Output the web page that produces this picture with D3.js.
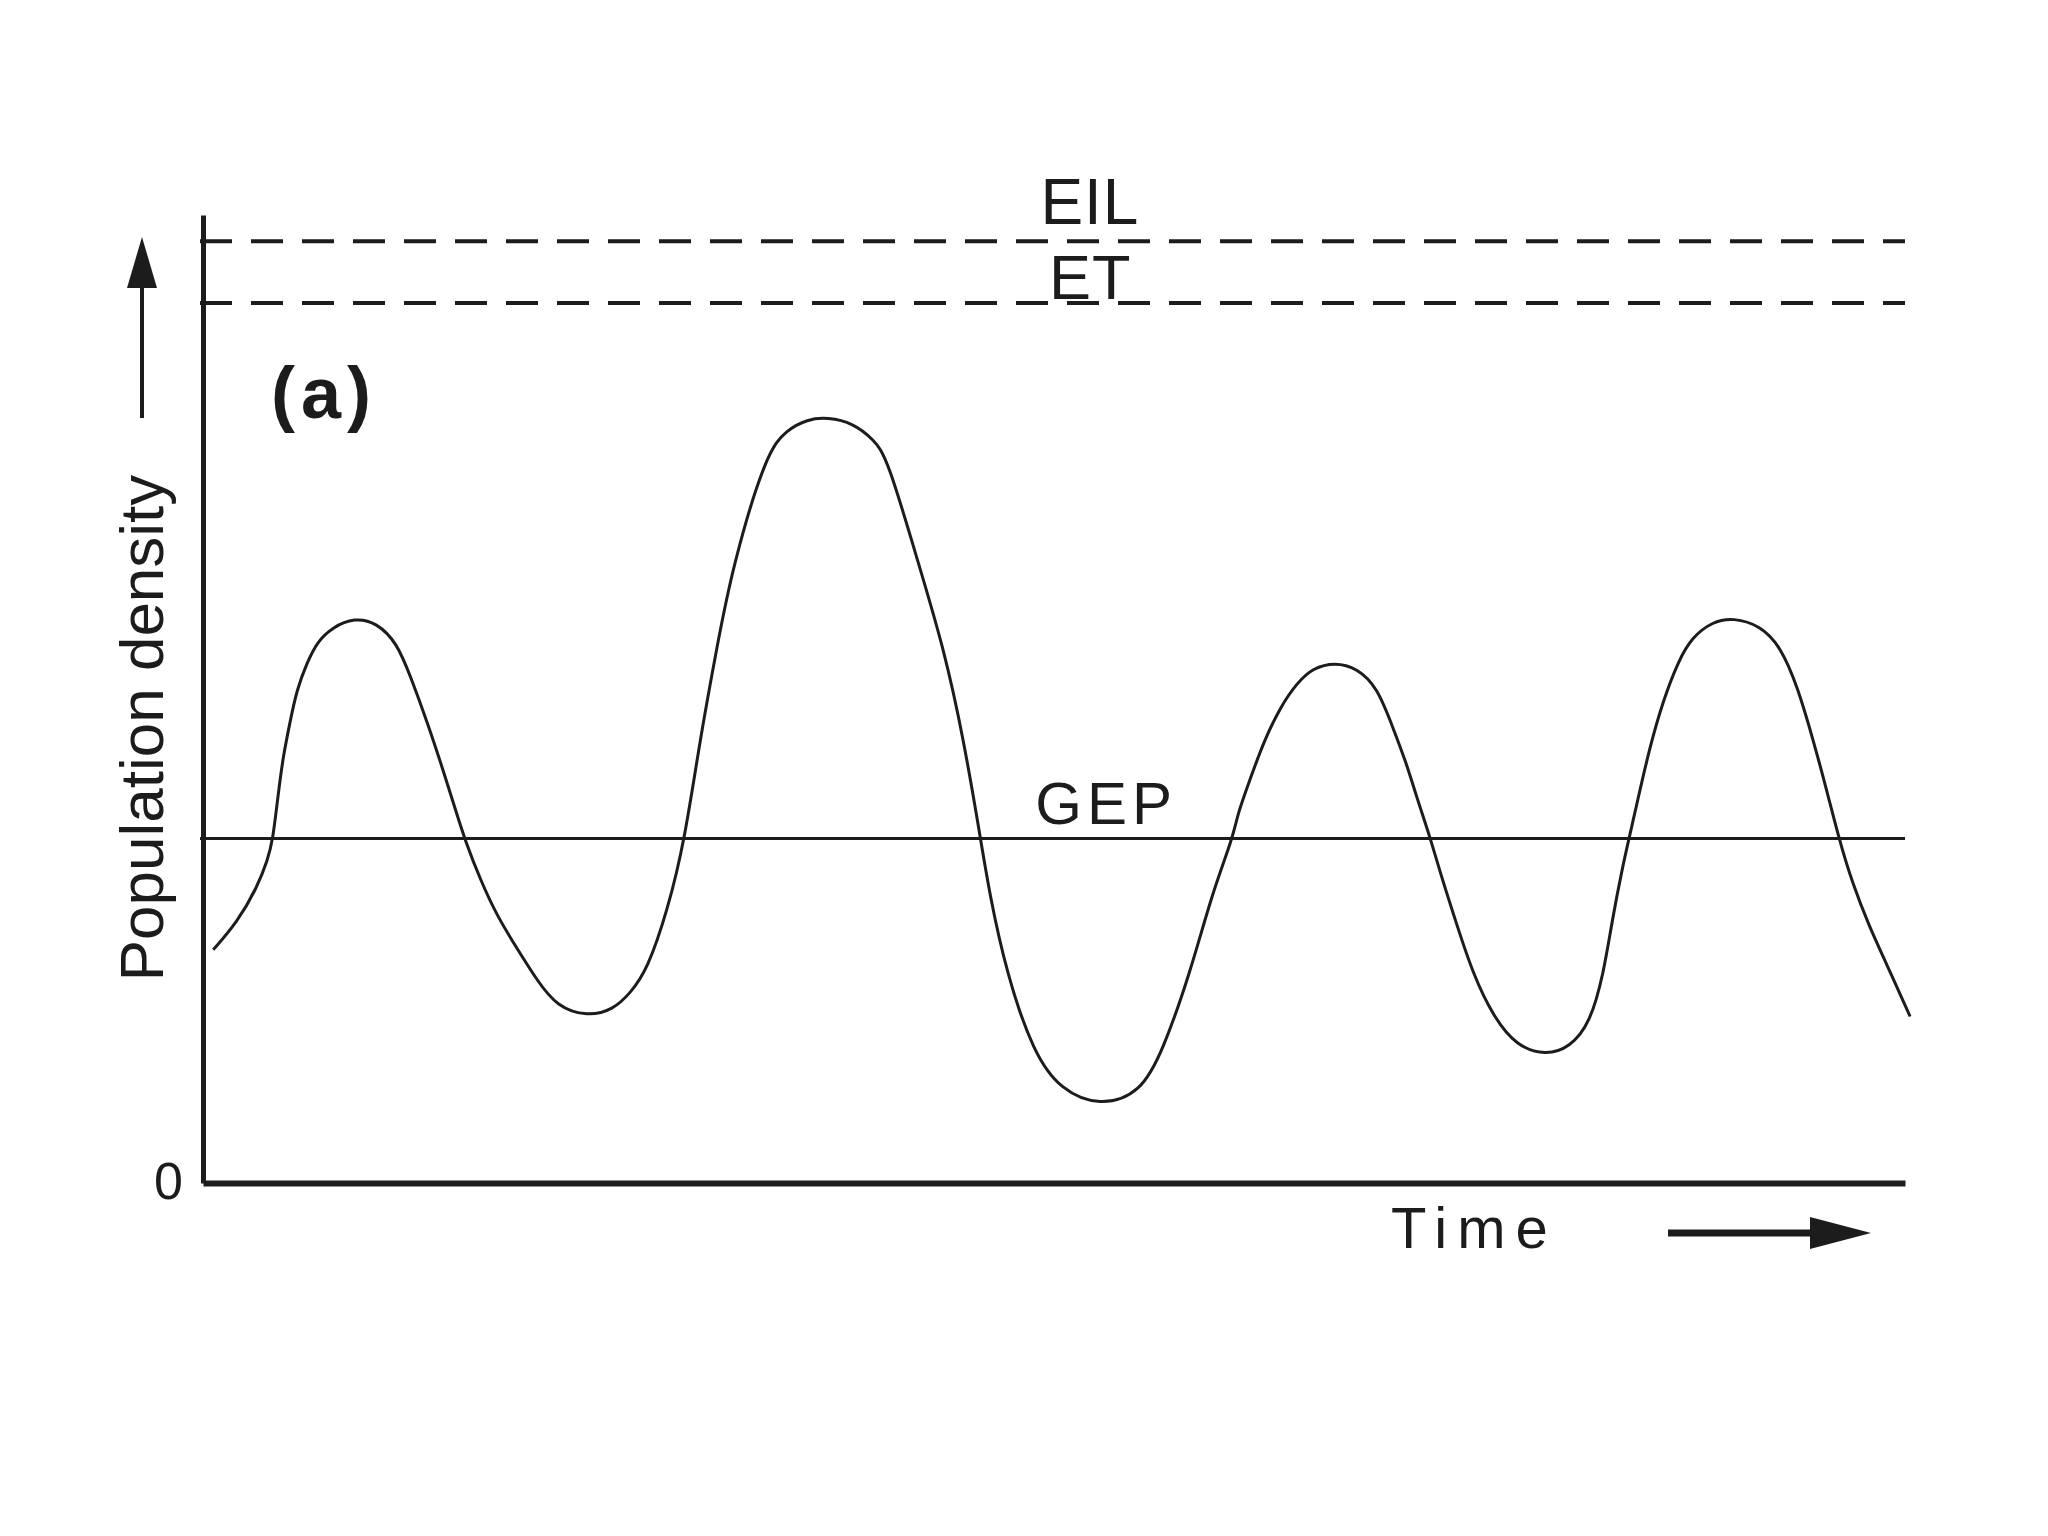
<!DOCTYPE html>
<html>
<head>
<meta charset="utf-8">
<script src="https://cdn.jsdelivr.net/npm/d3@7"></script>
<style>
  body { margin: 0; background: #fff; }
  svg { display: block; font-family: "Liberation Sans", Arial, sans-serif; }
</style>
</head>
<body>
<svg></svg>
<script>
// population density over time
let times = [0.6, 2.0, 3.2, 3.8, 4.1, 4.4, 4.7, 5.1, 5.5, 6.1, 6.7, 7.6, 8.9, 10.2, 11.4, 12.2, 13.2, 14.1, 14.9, 15.4,
  16.3, 17.3, 18.5, 19.6, 20.8, 22.6, 24.1, 25.1, 26.1, 27.3, 28.3, 29.2, 30.2, 31.1, 33.1, 34.3, 35.5, 36.7, 38.2, 39.4,
  40.2, 42.1, 43.5, 44.7, 45.7, 46.2, 47.2, 48.8, 50.4, 52.7, 55.1, 56.4, 58.0, 59.3, 60.5, 60.8, 61.5, 62.3, 63.3, 64.3,
  65.2, 66.5, 67.8, 69.0, 69.9, 70.7, 71.3, 72.1, 72.7, 73.7, 74.6, 75.8, 77.2, 78.9, 80.3, 81.5, 82.3, 82.8, 83.4, 83.8,
  84.3, 85.0, 85.8, 86.7, 87.5, 88.7, 89.9, 91.5, 92.7, 93.7, 94.6, 95.4, 96.1, 96.9, 97.9, 98.9, 100.3];
let density = [24.1, 26.9, 30.6, 33.4, 35.4, 39.9, 44.0, 47.5, 50.9, 53.7, 55.9, 57.4, 58.4, 57.9, 55.8, 52.3, 47.5, 42.7, 38.2, 35.4,
  31.3, 27.5, 24.1, 21.0, 18.2, 17.2, 17.9, 19.6, 22.0, 28.2, 35.4, 45.8, 55.4, 63.6, 75.5, 77.8, 78.9, 79.1, 78.5, 76.8,
  75.0, 63.6, 55.4, 45.8, 35.4, 30.0, 21.7, 13.4, 9.6, 7.9, 9.3, 13.7, 21.7, 30.0, 35.6, 38.2, 41.6, 45.5, 49.2, 51.7,
  53.2, 53.8, 53.2, 51.2, 47.1, 43.4, 39.9, 35.7, 32.0, 26.5, 21.7, 17.2, 14.1, 13.2, 14.0, 16.5, 21.7, 27.2, 32.6, 35.7,
  39.6, 45.0, 49.9, 54.0, 56.4, 58.0, 58.4, 57.6, 55.4, 51.2, 45.8, 40.6, 35.7, 31.0, 26.5, 22.7, 17.2];

// reference levels
let levelNames = ['EIL', 'ET', 'GEP'];
let levelValues = [97.3, 90.9, 35.6];
let levelLabelTimes = [49.2, 49.7, 48.9];

let yTickValues = [0];
let yTickLabels = ['0'];

let width = 2048;
let height = 1536;
let plotLeft = 203;
let plotRight = 1905;
let plotTop = 215;
let plotBottom = 1183;
let ink = '#1c1c1c';

let svg = d3.select('svg').attr('width', width).attr('height', height);
svg.append('rect').attr('width', width).attr('height', height).attr('fill', '#fff');

let xScale = d3.scaleLinear().domain([0, 100]).range([plotLeft, plotRight]);
let yScale = d3.scaleLinear().domain([0, 100]).range([plotBottom, plotTop]);

let points = times.map((t, i) => ({ t: t, d: density[i] }));
let levels = levelNames.map((name, i) => ({ name: name, value: levelValues[i], at: levelLabelTimes[i] }));

// reference lines
svg.selectAll('line.level').
data(levels).
enter().
append('line').
attr('class', 'level').
attr('x1', xScale(0) - 3).
attr('x2', xScale(100)).
attr('y1', item => yScale(item.value)).
attr('y2', item => yScale(item.value)).
attr('stroke', ink).
attr('stroke-width', item => item.name === 'GEP' ? 3 : 4).
attr('stroke-dasharray', item => item.name === 'GEP' ? null : '32 19');

let labelOffset = { EIL: -17, ET: -4, GEP: -14 };
let labelSize = { EIL: 64, ET: 63, GEP: 60 };
svg.selectAll('text.level').
data(levels).
enter().
append('text').
attr('class', 'level').
attr('x', item => xScale(item.at)).
attr('y', item => yScale(item.value) + labelOffset[item.name]).
attr('font-size', item => labelSize[item.name]).
attr('letter-spacing', item => item.name === 'GEP' ? 5 : 1).
attr('fill', ink).
text(item => item.name);

// population curve
let line = d3.line().
x(item => xScale(item.t)).
y(item => yScale(item.d)).
curve(d3.curveBasis);

svg.append('path').
datum(points).
attr('d', line).
attr('fill', 'none').
attr('stroke', ink).
attr('stroke-width', 3).
attr('stroke-linejoin', 'round');

// axes
let xAxis = d3.axisBottom(xScale).tickValues([]).tickSizeOuter(0);
let yAxis = d3.axisLeft(yScale).
tickValues(yTickValues).
tickFormat((v, i) => yTickLabels[i]).
tickSize(0).
tickPadding(20).
tickSizeOuter(0);

let gx = svg.append('g').attr('transform', 'translate(0,' + plotBottom + ')').call(xAxis);
gx.select('.domain').attr('stroke', ink).attr('stroke-width', 6);

let gy = svg.append('g').attr('transform', 'translate(' + plotLeft + ',0)').call(yAxis);
gy.select('.domain').attr('stroke', ink).attr('stroke-width', 5);
gy.selectAll('text').
attr('font-size', 52).
attr('font-family', '"Liberation Sans", Arial, sans-serif').
attr('fill', ink).
attr('dy', '0.3em');

// axis titles and arrows
svg.append('text').
attr('transform', 'translate(163,' + (plotBottom - 455) + ') rotate(-90)').
attr('text-anchor', 'middle').
attr('font-size', 62).
attr('fill', ink).
text('Population density');

svg.append('text').
attr('x', 1391).
attr('y', 1248).
attr('font-size', 58).
attr('letter-spacing', 10).
attr('fill', ink).
text('Time');

svg.append('line').
attr('x1', 142).attr('x2', 142).
attr('y1', 418).attr('y2', 280).
attr('stroke', ink).attr('stroke-width', 4);
svg.append('path').
attr('d', 'M142,237 L157,288 L127,288 Z').
attr('fill', ink);

svg.append('line').
attr('x1', 1668).attr('x2', 1820).
attr('y1', 1233).attr('y2', 1233).
attr('stroke', ink).attr('stroke-width', 7);
svg.append('path').
attr('d', 'M1871,1233 L1810,1217 L1810,1249 Z').
attr('fill', ink);

// panel tag
svg.append('text').
attr('x', 271).
attr('y', 418).
attr('font-size', 72).
attr('font-weight', 'bold').
attr('letter-spacing', 6).
attr('fill', ink).
text('(a)');
</script>
</body>
</html>
